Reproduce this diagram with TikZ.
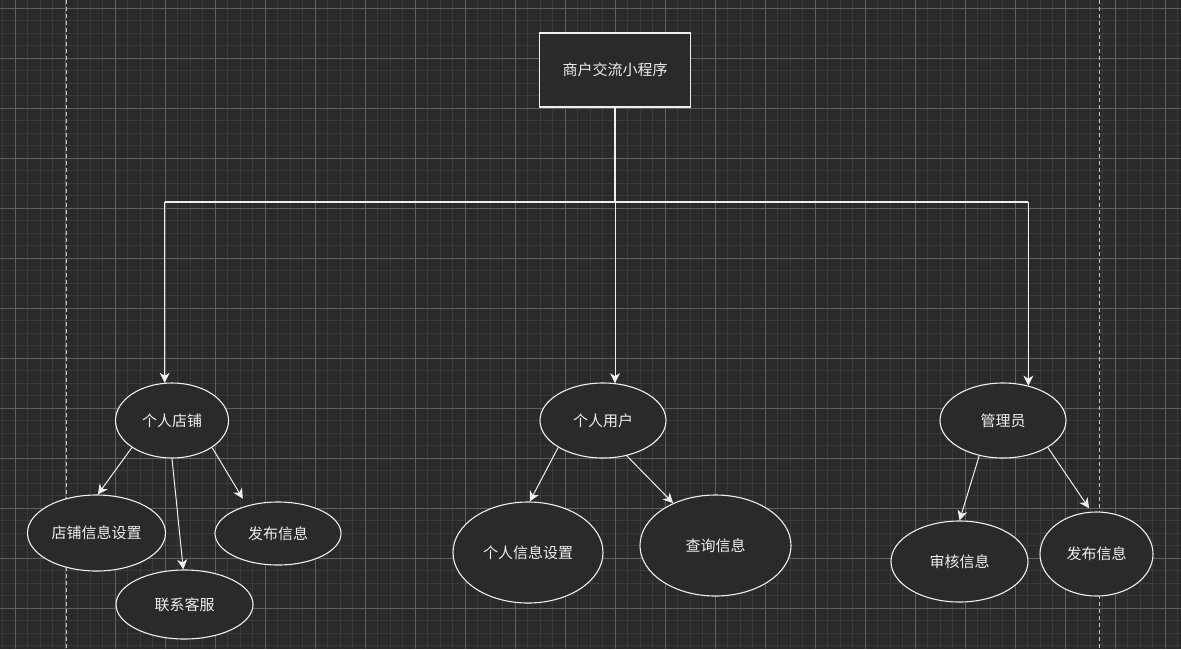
\documentclass[tikz,border=0pt]{standalone}
\usepackage{fontspec}
\setmainfont{Noto Sans CJK SC}
\usetikzlibrary{shapes.geometric, arrows.meta, calc}
\definecolor{canvasbg}{RGB}{42,42,42}
\definecolor{gridminor}{RGB}{58,58,58}
\definecolor{gridmajor}{RGB}{96,96,96}
\definecolor{strokewhite}{RGB}{238,238,238}
\definecolor{pagemark}{RGB}{200,200,200}

\begin{document}
\begin{tikzpicture}[
    x=1pt, y=-1pt,
    minorline/.style={line width=1pt, color=gridminor},
    majorline/.style={line width=1pt, color=gridmajor},
    pageedge/.style={line width=1pt, color=pagemark, dash pattern=on 4pt off 3pt},
    appbox/.style={rectangle, draw=strokewhite, line width=1.2pt, fill=canvasbg,
                   minimum width=151pt, minimum height=74pt, inner sep=0pt,
                   font=\fontsize{15}{18}\selectfont, text=strokewhite},
    role/.style={ellipse, draw=strokewhite, line width=1.1pt, fill=canvasbg,
                 inner sep=0pt, font=\fontsize{15}{18}\selectfont, text=strokewhite},
    oval/.style n args={2}{minimum width=#1pt, minimum height=#2pt},
    trunk/.style={-, line width=1.2pt, color=strokewhite},
    busline/.style={-, line width=2.2pt, color=strokewhite},
    flow/.style={-{Stealth[length=10pt,width=10pt,inset=3pt]}, line width=1pt,
                 color=strokewhite},
]

% ======================================================
% Canvas: dark page with minor / major grid and the two
% dashed page borders.
% ======================================================
\fill[canvasbg] (0,0) rectangle (1181,649);
\useasboundingbox (0,0) rectangle (1181,649);
\foreach \i in {0,...,94}
  \draw[minorline] ({2.8+12.5*\i},0) -- ++(0,649);
\foreach \j in {0,...,51}
  \draw[minorline] (0,{8.3+12.5*\j}) -- ++(1181,0);
\foreach \i in {0,...,23}
  \draw[majorline] ({15.3+50*\i},0) -- ++(0,649);
\foreach \j in {0,...,12}
  \draw[majorline] (0,{8.3+50*\j}) -- ++(1181,0);
\draw[pageedge] (66,0) -- ++(0,649);
\draw[pageedge] (1099,0) -- ++(0,649);

% ======================================================
% Root box and the three roles
% ======================================================
\node[appbox] (app) at (615,70) {商户交流小程序};

\node[role, oval={113}{75}] (shop)  at (172,420.5)  {个人店铺};
\node[role, oval={126}{75}] (user)  at (603,420.5)  {个人用户};
\node[role, oval={126}{75}] (admin) at (1003,420.5) {管理员};

% functions of each role
\node[role, oval={138}{76}]  (shopset)   at (96.5,533)   {店铺信息设置};
\node[role, oval={137}{69}]  (service)   at (184.5,604.5) {联系客服};
\node[role, oval={126}{63}]  (shoppost)  at (278,533.5)  {发布信息};
\node[role, oval={150}{101}] (userset)   at (528,552.5)  {个人信息设置};
\node[role, oval={151}{101}] (query)     at (715.5,545.5) {查询信息};
\node[role, oval={137}{81}]  (audit)     at (959.5,561.5) {审核信息};
\node[role, oval={113}{84}]  (adminpost) at (1096.5,554) {发布信息};

% ======================================================
% Trunk: root -> bus -> roles
% ======================================================
\coordinate (bus) at ($(app.south)+(0,94)$);
\draw[trunk] (app.south) -- (bus);
\draw[busline] (bus -| shop.101) -- (bus -| admin.54);
\draw[flow] (bus -| shop.101) -- (shop.101);
\draw[flow] (bus) -- (bus |- user.72);
\draw[flow] (bus -| admin.54) -- (admin.54);

% role -> function arrows
\draw[flow] (shop.214) -- (shopset.88);
\draw[flow] (shop.south) -- (service.92);
\draw[flow, shorten >=8pt] (shop.-34) -- (shoppost.138);
\draw[flow] (user.211) -- (userset.88);
\draw[flow] (user.-56) -- (query.135);
\draw[flow] (admin.236) -- (audit.90);
\draw[flow, shorten >=4pt] (admin.-31) -- (adminpost.97);

\end{tikzpicture}
\end{document}
